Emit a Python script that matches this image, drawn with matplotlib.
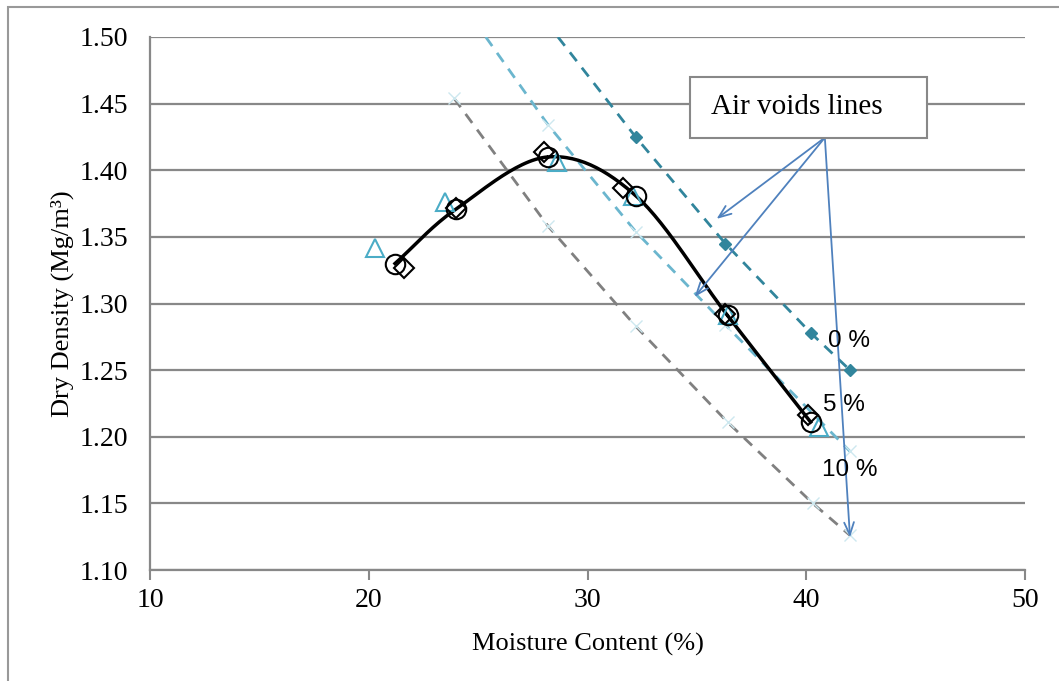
import numpy as np
import matplotlib
matplotlib.use("Agg")
import matplotlib.pyplot as plt
from matplotlib.patches import Rectangle

# compaction test series (moisture %, dry density Mg/m3)
w_circle = [21.2, 24.0, 28.2, 32.2, 36.4, 40.2]
rho_circle = [1.330, 1.371, 1.410, 1.381, 1.291, 1.211]
w_diamond = [21.6, 24.0, 28.0, 31.6, 36.3, 40.1]
rho_diamond = [1.327, 1.372, 1.414, 1.387, 1.292, 1.216]
w_triangle = [20.3, 23.5, 28.6, 32.1, 36.4, 40.6]
rho_triangle = [1.342, 1.376, 1.406, 1.381, 1.291, 1.207]

# air voids lines
w_av0 = [28.65, 32.2, 36.3, 40.2, 42.0]
rho_av0 = [1.500, 1.425, 1.345, 1.278, 1.250]
w_av5 = [25.35, 28.2, 32.2, 36.3, 42.0]
rho_av5 = [1.500, 1.434, 1.354, 1.284, 1.189]
w_av10 = [23.9, 28.2, 32.2, 36.4, 40.3, 42.0]
rho_av10 = [1.454, 1.358, 1.283, 1.211, 1.150, 1.126]

xticks = [10, 20, 30, 40, 50]
yticks = [1.10, 1.15, 1.20, 1.25, 1.30, 1.35, 1.40, 1.45, 1.50]

SERIF = ["Liberation Serif", "DejaVu Serif"]
SANS = ["Liberation Sans", "DejaVu Sans"]


def smooth(x, y, n=30):
    # catmull-rom style smoothing, like excel's smoothed line
    x = np.asarray(x, float)
    y = np.asarray(y, float)
    px = np.concatenate([[2 * x[0] - x[1]], x, [2 * x[-1] - x[-2]]])
    py = np.concatenate([[2 * y[0] - y[1]], y, [2 * y[-1] - y[-2]]])
    xs, ys = [], []
    t = np.linspace(0, 1, n)
    for i in range(1, len(px) - 2):
        p0, p1, p2, p3 = [np.array([px[j], py[j]]) for j in range(i - 1, i + 3)]
        c = 0.5 * (2 * p1[:, None] + (-p0 + p2)[:, None] * t
                   + (2 * p0 - 5 * p1 + 4 * p2 - p3)[:, None] * t ** 2
                   + (-p0 + 3 * p1 - 3 * p2 + p3)[:, None] * t ** 3)
        xs.extend(c[0])
        ys.extend(c[1])
    return np.array(xs), np.array(ys)


W, H = 1059, 681
fig = plt.figure(figsize=(W / 100, H / 100), dpi=100)
ax = fig.add_axes([150 / W, 1 - 570 / H, 875 / W, 533 / H])

# outer chart border (left/top visible)
fig.patches.append(Rectangle((8 / W, -0.1), 1.2, 1 - 7 / H + 0.1,
                             transform=fig.transFigure, fill=False,
                             edgecolor="#999999", linewidth=1.5))

ax.set_xlim(10, 50)
ax.set_ylim(1.10, 1.50)
ax.set_xticks(xticks)
ax.set_yticks(yticks)
ax.set_xticklabels([str(v) for v in xticks], family=SERIF, fontsize=20)
ax.set_yticklabels(["%.2f" % v for v in yticks], family=SERIF, fontsize=20)
ax.tick_params(axis="x", length=7, width=1.5, color="#888888", pad=6)
ax.tick_params(axis="y", length=0, pad=16)
ax.grid(axis="y", color="#888888", linewidth=1.6)
ax.set_axisbelow(True)
for s in ["top", "right"]:
    ax.spines[s].set_visible(False)
for s in ["left", "bottom"]:
    ax.spines[s].set_color("#888888")
    ax.spines[s].set_linewidth(1.6)

ax.set_xlabel("Moisture Content (%)", family=SERIF, fontsize=19, labelpad=14)
ax.set_ylabel("Dry Density (Mg/m\u00b3)", family=SERIF, fontsize=19, labelpad=4)

# air void lines
ax.plot(w_av10, rho_av10, color="#808080", linestyle=(0, (4, 3)), linewidth=2,
        marker="x", markersize=9, markeredgecolor="#CDE8EF", markeredgewidth=1,
        zorder=2)
ax.plot(w_av5, rho_av5, color="#6BB6CE", linestyle=(0, (4, 3)), linewidth=2,
        marker="x", markersize=9, markeredgecolor="#CDE8EF", markeredgewidth=1,
        markevery=[1, 2, 3, 4], zorder=2)
ax.plot(w_av0, rho_av0, color="#31859C", linestyle=(0, (4, 3)), linewidth=2,
        marker="D", markersize=6, markerfacecolor="#31859C",
        markeredgecolor="#31859C", markevery=[1, 2, 3, 4], zorder=2)

# test results
sx, sy = smooth(w_circle, rho_circle)
ax.plot(sx, sy, color="black", linewidth=2.5, zorder=3)
ax.plot(w_triangle, rho_triangle, linestyle="none", marker="^", markersize=13,
        markerfacecolor="none", markeredgecolor="#4BACC6", markeredgewidth=1.5,
        zorder=4)
ax.plot(w_circle, rho_circle, linestyle="none", marker="o", markersize=14,
        markerfacecolor="none", markeredgecolor="black", markeredgewidth=1.5,
        zorder=4)
ax.plot(w_diamond, rho_diamond, linestyle="none", marker="D", markersize=10,
        markerfacecolor="none", markeredgecolor="black", markeredgewidth=1.5,
        zorder=4)

# labels on the air void lines
ax.text(41.0, 1.272, "0 %", family=SANS, fontsize=17.5, ha="left", va="center", zorder=6)
ax.text(40.75, 1.224, "5 %", family=SANS, fontsize=17.5, ha="left", va="center", zorder=6)
ax.text(40.7, 1.175, "10 %", family=SANS, fontsize=17.5, ha="left", va="center", zorder=6)

# callout box with arrows
box_x0, box_x1 = (690 - 150) / 875, (927 - 150) / 875
box_y0, box_y1 = (570 - 138) / 533, (570 - 77) / 533
ax.add_patch(Rectangle((box_x0, box_y0), box_x1 - box_x0, box_y1 - box_y0,
                       transform=ax.transAxes, facecolor="white",
                       edgecolor="#888888", linewidth=1.5, zorder=6))
ax.text((711 - 150) / 875, (box_y0 + box_y1) / 2, "Air voids lines",
        transform=ax.transAxes, family=SERIF, fontsize=21, ha="left",
        va="center", zorder=7)
src = (40.85, 1.4245)
for tgt in [(35.9, 1.3635), (34.9, 1.305), (42.0, 1.1245)]:
    ax.annotate("", xy=tgt, xytext=src,
                arrowprops=dict(arrowstyle="->,head_length=0.9,head_width=0.35",
                                color="#4F81BD", linewidth=1.3,
                                shrinkA=0, shrinkB=0),
                zorder=5, annotation_clip=False)

fig.savefig("out.png", dpi=100)
